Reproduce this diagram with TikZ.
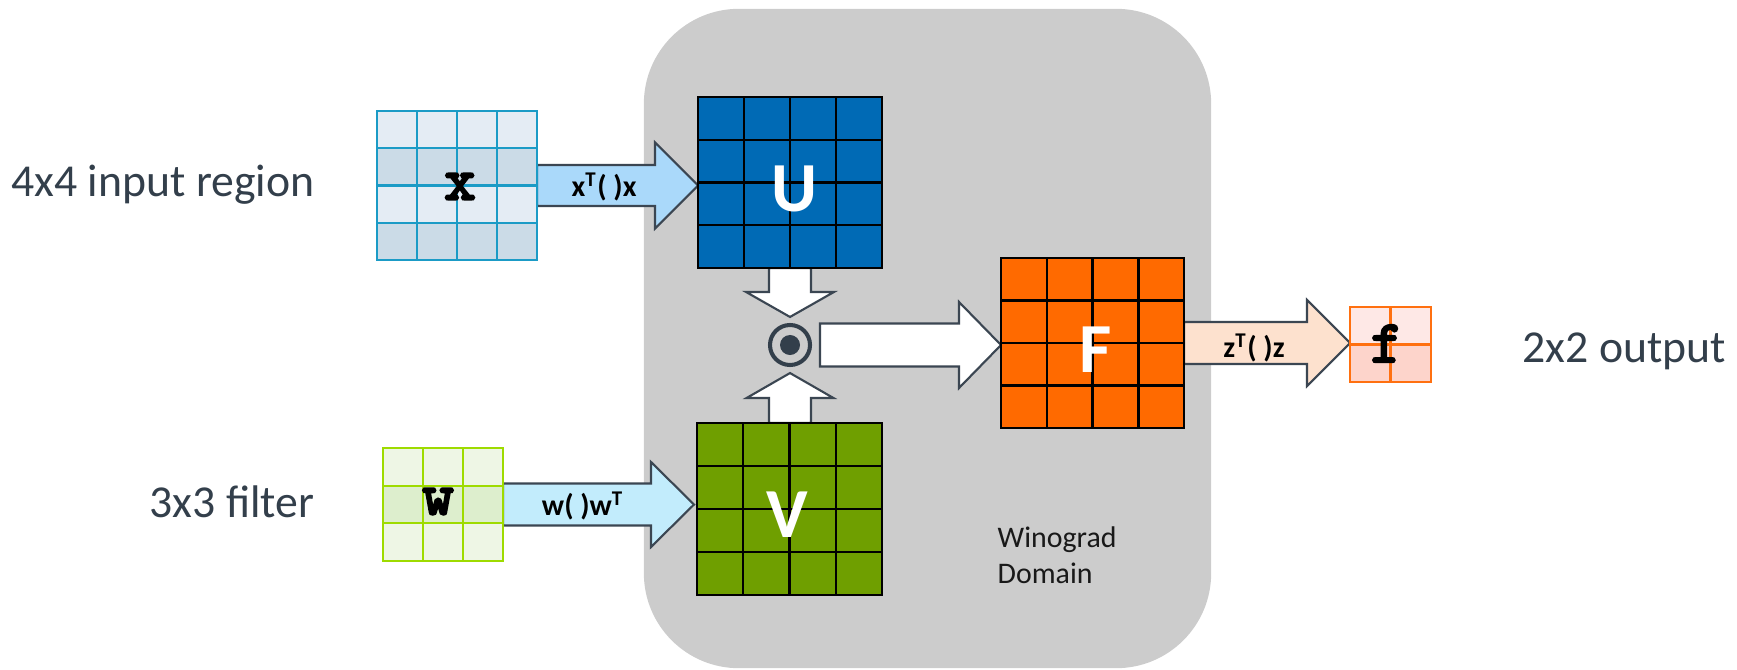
\documentclass[tikz,border=0pt]{standalone}
\usepackage{fontspec}
\setmainfont{Carlito}
\newfontfamily\monofnt{lmmono10-regular.otf}[FakeBold=4]
\usetikzlibrary{calc}

\definecolor{slate}{HTML}{333F4B}
\definecolor{edgec}{HTML}{3B4652}
\definecolor{domain}{HTML}{CCCCCC}
\definecolor{ublue}{HTML}{006AB5}
\definecolor{vgreen}{HTML}{6F9F00}
\definecolor{forange}{HTML}{FF6A00}
\definecolor{xline}{HTML}{1B9BC6}
\definecolor{xlight}{HTML}{E4ECF4}
\definecolor{xdark}{HTML}{CBDBE7}
\definecolor{wline}{HTML}{9EDB00}
\definecolor{wlight}{HTML}{EEF6E5}
\definecolor{wdark}{HTML}{DDEECD}
\definecolor{fline}{HTML}{FF7010}
\definecolor{flight}{HTML}{FEE8E6}
\definecolor{fdark}{HTML}{FDD4CB}
\definecolor{xarrow}{HTML}{AAD9FA}
\definecolor{warrow}{HTML}{C2ECFC}
\definecolor{zarrow}{HTML}{FDE1CE}

% empty node covering a grid: name, left, top, width, height (px)
\newcommand\gridnode[5]{%
  \node[inner sep=0pt, outer sep=0pt, minimum width={#4*0.01cm},
        minimum height={#5*0.01cm}] (#1) at ({#2+#4/2},{#3+#5/2}) {};}

% cells of a grid: node, cols, rows, cell width, cell height, odd-row style, even-row style
\newcommand\cellgrid[7]{%
  \foreach \r in {1,...,#3}{\foreach \c in {1,...,#2}{%
    \ifodd\r
      \path[#6] ($(#1.north west)+({(\c-1)*#4},{(\r-1)*#5})$) rectangle ++(#4,#5);
    \else
      \path[#7] ($(#1.north west)+({(\c-1)*#4},{(\r-1)*#5})$) rectangle ++(#4,#5);
    \fi}}}

% block arrow: start, tip, head length, shaft half width, head half width, style
\newcommand\blockarrow[6]{%
  \coordinate (ba-h) at ($(#2)!#3!(#1)$);
  \path[#6] ($(#1)!#4!90:(#2)$) -- ($(ba-h)!#4!90:(#2)$) -- ($(ba-h)!#5!90:(#2)$)
    -- (#2) -- ($(ba-h)!#5!-90:(#2)$) -- ($(ba-h)!#4!-90:(#2)$)
    -- ($(#1)!#4!-90:(#2)$) -- cycle;}

\tikzset{
  sidelabel/.style={font=\fontsize{13}{15.6}\selectfont, text=slate, inner sep=0pt},
  arrowlabel/.style={font=\bfseries\fontsize{8.5}{10}\selectfont, text=black, inner sep=0pt},
  gridletter/.style={font=\monofnt\bfseries\fontsize{17}{17}\selectfont, text=black, inner sep=0pt},
  bigletter/.style={font=\bfseries\fontsize{20}{20}\selectfont, text=white, inner sep=0pt},
  barrow/.style={draw=edgec, line width=0.6pt, line join=miter},
  xodd/.style={fill=xlight, draw=xline, line width=0.65pt},
  xeven/.style={fill=xdark, draw=xline, line width=0.65pt},
  wodd/.style={fill=wlight, draw=wline, line width=0.65pt},
  weven/.style={fill=wdark, draw=wline, line width=0.65pt},
  fodd/.style={fill=flight, draw=fline, line width=0.65pt},
  feven/.style={fill=fdark, draw=fline, line width=0.65pt},
  ucell/.style={fill=ublue, draw=black, line width=0.7pt},
  vcell/.style={fill=vgreen, draw=black, line width=0.7pt},
  fcell/.style={fill=forange, draw=black, line width=0.7pt},
}

\begin{document}
\begin{tikzpicture}[x=0.01cm, y=-0.01cm]
\useasboundingbox (0,0) rectangle (1737,670);

% Winograd domain background
\node[fill=domain, rounded corners=0.95cm, inner sep=0pt,
      minimum width=5.67cm, minimum height=6.59cm] (domainbox) at (927.5,338.5) {};
\node[anchor=base west, align=left, inner sep=0pt, text=black!90,
      font=\fontsize{8.5}{10.2}\selectfont] (wdlabel) at (997,583) {Winograd\\Domain};

% grid placeholders
\gridnode{X}{377}{111}{160}{149}
\gridnode{W}{383}{448}{120}{113}
\gridnode{U}{698}{97}{184}{171}
\gridnode{V}{697}{423}{185}{172}
\gridnode{F}{1001}{258}{183}{170}
\gridnode{O}{1350}{307}{81}{75}

% element-wise product
\node[circle, draw=slate, line width=1.15pt, minimum size=0.4cm, inner sep=0pt] (dot) at (790,345) {};
\fill[slate] (dot.center) circle (0.1cm);

% arrow end points
\coordinate (xs) at (X.east);
\coordinate (xt) at (U.west |- xs);
\coordinate (ws) at (W.east);
\coordinate (wt) at ($(V.west |- ws)+(-3,0)$);
\coordinate (us) at (dot.north |- U.south);
\coordinate (ut) at ($(dot.north)+(0,-6)$);
\coordinate (vs) at (dot.south |- V.north);
\coordinate (vt) at ($(dot.south)+(0,6)$);
\coordinate (ds) at ($(dot.east)+(8,0)$);
\coordinate (dt) at (F.west |- ds);
\coordinate (zs) at (F.east);
\coordinate (zt) at (O.west |- zs);

% block arrows
\blockarrow{xs}{xt}{0.43cm}{0.205cm}{0.43cm}{barrow, fill=xarrow}
\blockarrow{ws}{wt}{0.43cm}{0.21cm}{0.425cm}{barrow, fill=warrow}
\blockarrow{us}{ut}{0.25cm}{0.21cm}{0.44cm}{barrow, fill=white}
\blockarrow{vs}{vt}{0.25cm}{0.21cm}{0.435cm}{barrow, fill=white}
\blockarrow{ds}{dt}{0.42cm}{0.215cm}{0.43cm}{barrow, fill=white}
\blockarrow{zs}{zt}{0.43cm}{0.21cm}{0.43cm}{barrow, fill=zarrow}

% grid cells
\cellgrid{X}{4}{4}{40}{37.25}{xodd}{xeven}
\cellgrid{W}{3}{3}{40}{37.667}{wodd}{weven}
\cellgrid{U}{4}{4}{46}{42.75}{ucell}{ucell}
\cellgrid{V}{4}{4}{46.25}{43}{vcell}{vcell}
\cellgrid{F}{4}{4}{45.75}{42.5}{fcell}{fcell}
\cellgrid{O}{2}{2}{40.5}{37.5}{fodd}{feven}

% letters in the grids
\node[gridletter] (xlet) at ($(X.center)+(3,1)$) {x};
\node[gridletter] (wlet) at ($(W.center)+(-5,-3)$) {w};
\node[gridletter] (flet) at ($(O.center)+(-4,-1)$) {f};
\node[bigletter] (ulet) at ($(U.center)+(4,6)$) {U};
\node[bigletter] (vlet) at ($(V.center)+(-2,6)$) {V};
\node[bigletter] (Flet) at ($(F.center)+(3,7)$) {F};

% transform labels
\node[arrowlabel] (xlab) at ($(xs)+(67,1.5)$) {x\textsuperscript{T}( )x};
\node[arrowlabel] (wlab) at ($(ws)+(80,1.5)$) {w( )w\textsuperscript{T}};
\node[arrowlabel] (zlab) at ($(zs)+(70,5)$) {z\textsuperscript{T}( )z};

% side captions
\node[sidelabel, anchor=base east] (lin) at (315,196) {4x4 input region};
\node[sidelabel, anchor=base east] (lfil) at (315,517) {3x3 filter};
\node[sidelabel, anchor=base west] (lout) at (1522,362) {2x2 output};
\end{tikzpicture}
\end{document}
